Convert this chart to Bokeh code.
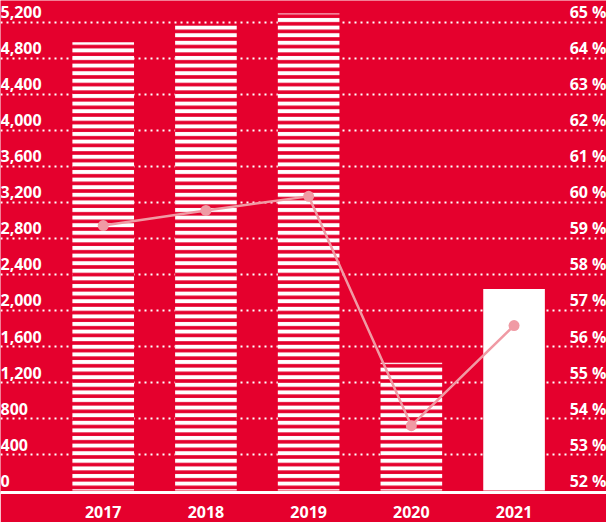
from bokeh.plotting import figure
from bokeh.models import Range1d, FixedTicker
from bokeh.core.properties import value
from bokeh.embed import file_html
from bokeh.resources import INLINE

years = ["2017", "2018", "2019", "2020", "2021"]
volumes = [4980, 5170, 5300, 1420, 2240]
shares = [59.36, 59.78, 60.17, 53.8, 56.58]
left_ticks = [0, 400, 800, 1200, 1600, 2000, 2400, 2800, 3200, 3600, 4000, 4400, 4800, 5200]
left_labels = ["0", "400", "800", "1,200", "1,600", "2,000", "2,400", "2,800", "3,200",
               "3,600", "4,000", "4,400", "4,800", "5,200"]
right_ticks = [52, 53, 54, 55, 56, 57, 58, 59, 60, 61, 62, 63, 64, 65]
right_labels = [f"{t} %" for t in right_ticks]

RED = "#E5002D"
PINK = "#F09AA4"
FONT = "Open Sans"

xs = list(range(len(years)))

p = figure(width=606, height=522, output_backend="svg", toolbar_location=None,
           x_range=Range1d(-1.0, 4.9), y_range=Range1d(-22, 5444),
           min_border_left=0, min_border_right=0, min_border_top=0, min_border_bottom=30)
p.extra_y_ranges = {"pct": Range1d(52 - 22 / 400, 52 + 5444 / 400)}
p.background_fill_color = RED
p.border_fill_color = RED
p.outline_line_color = None
p.yaxis.visible = False
p.xgrid.visible = False
p.ygrid.ticker = FixedTicker(ticks=left_ticks[1:])
p.ygrid.grid_line_color = "white"
p.ygrid.grid_line_width = 2
p.ygrid.grid_line_dash = "2 4"

# hatched bars (2017-2020), solid last bar
hx = xs[:-1]
p.vbar(x=hx, top=volumes[:-1], bottom=0, width=0.6, fill_color=RED, line_color=None,
       hatch_pattern="horizontal_line", hatch_color="white", hatch_scale=7.6, hatch_weight=4)
p.vbar(x=xs[-1:], top=volumes[-1:], bottom=0, width=0.6, fill_color="white", line_color=None)

p.line(xs, shares, y_range_name="pct", line_color=PINK, line_width=2.5)
p.scatter(xs, shares, y_range_name="pct", size=11, fill_color=PINK, line_color=None)

# left tick labels
p.text(x=[-1.0] * len(left_ticks), y=left_ticks, text=left_labels, text_align="left",
       text_baseline="middle", y_offset=-10, text_color="white", text_font=value(FONT),
       text_font_style="bold", text_font_size="16px")
# right tick labels
p.text(x=[4.9] * len(right_ticks), y=right_ticks, text=right_labels, y_range_name="pct",
       text_align="right", text_baseline="middle", y_offset=-10, text_color="white",
       text_font=value(FONT), text_font_style="bold", text_font_size="16px")

ax = p.xaxis[0]
ax.ticker = FixedTicker(ticks=xs)
ax.major_label_overrides = {i: y for i, y in zip(xs, years)}
ax.axis_line_color = "white"
ax.axis_line_width = 3
ax.major_tick_line_color = None
ax.minor_tick_line_color = None
ax.major_label_text_color = "white"
ax.major_label_text_font = FONT
ax.major_label_text_font_style = "bold"
ax.major_label_text_font_size = "16px"
ax.major_label_standoff = 7

open("out.html", "w").write(file_html(p, INLINE))
